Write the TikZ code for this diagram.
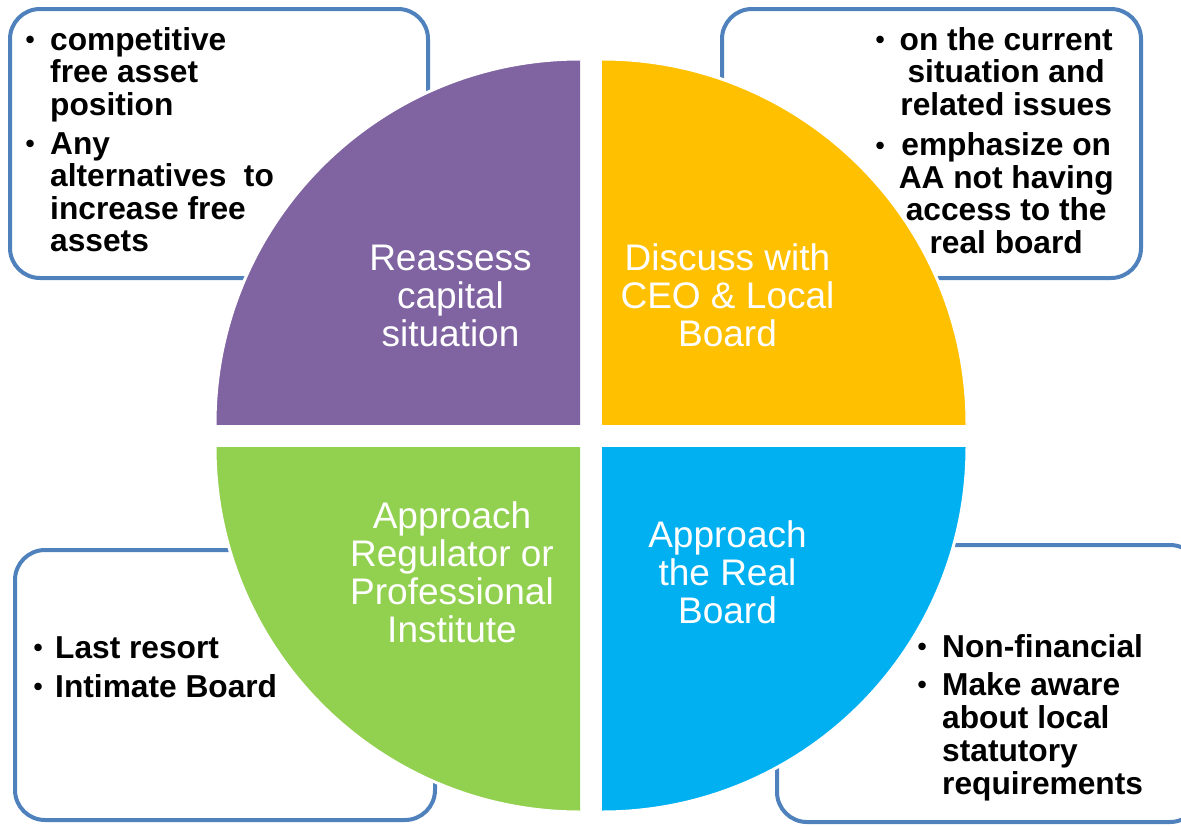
\documentclass[tikz,border=0pt]{standalone}
\usepackage{fontspec}
\usepackage{array}
\setmainfont{Liberation Sans}
\definecolor{qpurple}{RGB}{128,100,162}
\definecolor{qyellow}{RGB}{255,192,0}
\definecolor{qgreen}{RGB}{146,208,80}
\definecolor{qblue}{RGB}{0,176,240}
\definecolor{frameblue}{RGB}{79,129,189}
% a slightly smaller bullet, centred on the x-height
\newcommand\notebullet{{\fontsize{26}{32}\selectfont\raisebox{1.6pt}{\textbullet}}}
\begin{document}
\begin{tikzpicture}[x=1pt,y=-1pt,
  notebox/.style={draw=frameblue,line width=4pt,fill=white,rounded corners=30pt},
  notetext/.style={inner sep=0pt,anchor=base west,font=\bfseries\fontsize{31.7}{32}\selectfont},
  quadlabel/.style={inner sep=0pt,anchor=base,text=white,font=\fontsize{37}{38.2}\selectfont}]
\useasboundingbox (0,0) rectangle (1181,825);

% note frames behind the circle
\draw[notebox] (10,9) rectangle (428,278);
\draw[notebox] (722,9) rectangle (1141,278);
\draw[notebox] (15,550) rectangle (435,820);
\draw[notebox] (777,545) rectangle (1200,822);

% four quarter discs
\begin{scope}
  \clip (215,59) rectangle (580,424);
  \fill[qpurple,draw=white,line width=3pt] (580,424) circle[radius=365pt];
\end{scope}
\begin{scope}
  \clip (602,59) rectangle (967,424);
  \fill[qyellow,draw=white,line width=3pt] (602,424) circle[radius=365pt];
\end{scope}
\begin{scope}
  \clip (215,447) rectangle (580,812);
  \fill[qgreen,draw=white,line width=3pt] (580,447) circle[radius=365pt];
\end{scope}
\begin{scope}
  \clip (602,447) rectangle (967,812);
  \fill[qblue,draw=white,line width=3pt] (602,447) circle[radius=365pt];
\end{scope}

% quadrant labels
\node[quadlabel] (reassess) at (450.5,270) {\begin{tabular}[t]{@{}c@{}}Reassess\\capital\\situation\end{tabular}};
\node[quadlabel] (discuss) at (727.5,270) {\begin{tabular}[t]{@{}c@{}}Discuss with\\CEO \& Local\\Board\end{tabular}};
\node[quadlabel] (regulator) at (452,528) {\begin{tabular}[t]{@{}c@{}}Approach\\Regulator or\\Professional\\Institute\end{tabular}};
\node[quadlabel] (realboard) at (727.5,547) {\begin{tabular}[t]{@{}c@{}}Approach\\the Real\\Board\end{tabular}};

% bullet notes
\node[notetext] (capitalnotes) at (25.5,50) {\begin{tabular}[t]{@{}p{24.5pt}@{}l@{}}
\notebullet & competitive\\
 & free asset\\
 & position\\[7pt]
\notebullet & Any\\
 & alternatives\ \ to\\
 & increase free\\
 & assets
\end{tabular}};

\node[notetext] (ceonotes) at (875.5,50) {\begin{tabular}[t]{@{}p{22pt}@{}>{\centering\arraybackslash}p{217pt}@{}}
\notebullet & on the current\\
 & situation and\\
 & related issues\\[8pt]
\notebullet & emphasize on\\
 & AA not having\\
 & access to the\\
 & real board
\end{tabular}};

\node[notetext] (regulatornotes) at (33.5,658) {\begin{tabular}[t]{@{}p{21.5pt}@{}l@{}}
\notebullet & Last resort\\[7pt]
\notebullet & Intimate Board
\end{tabular}};

\node[notetext,font=\bfseries\fontsize{31.7}{33}\selectfont] (boardnotes) at (917.5,657) {\begin{tabular}[t]{@{}p{24.5pt}@{}l@{}}
\notebullet & Non-financial\\[5pt]
\notebullet & Make aware\\
 & about local\\
 & statutory\\
 & requirements
\end{tabular}};
\end{tikzpicture}
\end{document}
